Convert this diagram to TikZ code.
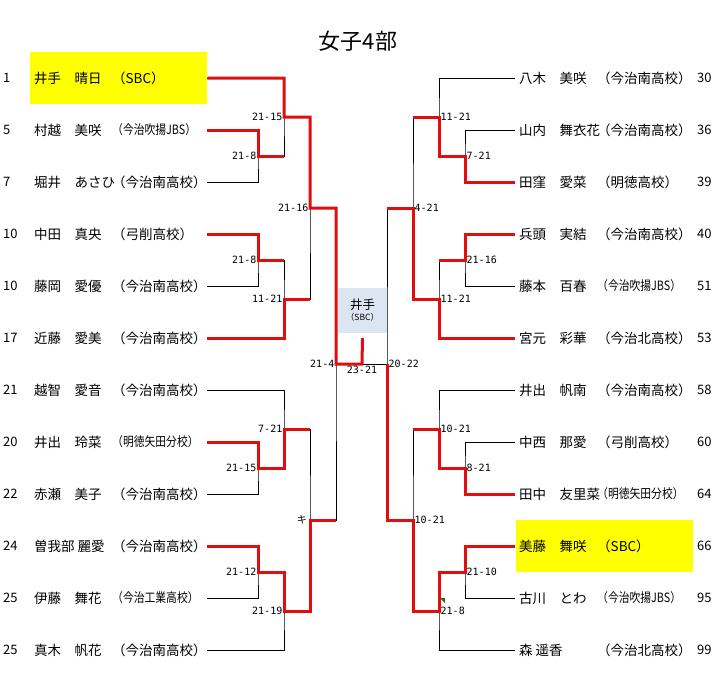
\documentclass[tikz,border=0pt]{standalone}
\usepackage{fontspec}
\setmainfont{Noto Sans CJK JP}
\newfontfamily\scorefont{DejaVu Sans Mono}
\usetikzlibrary{positioning}
\definecolor{winred}{RGB}{226,14,14}
\definecolor{hiyellow}{RGB}{255,255,0}
\definecolor{champblue}{RGB}{220,230,242}
\definecolor{notegreen}{RGB}{40,110,30}
\newcommand{\narrow}[1]{\scalebox{0.8}[0.95]{#1}}

\begin{document}
\begin{tikzpicture}[
    x=1pt, y=-1pt,
    pnum/.style={anchor=west, inner sep=0pt, font=\fontsize{13}{15}\selectfont},
    pname/.style={anchor=west, inner sep=0pt, font=\fontsize{13.5}{15}\selectfont},
    rname/.style={anchor=west, inner xsep=4pt, inner ysep=0pt, font=\fontsize{13.5}{15}\selectfont},
    pschool/.style={anchor=west, inner sep=0pt, text width=95pt, font=\fontsize{13.5}{15}\selectfont},
    lose/.style={draw=black, line width=0.8pt},
    win/.style={draw=winred, line width=3pt},
    lscore/.style={anchor=east, inner sep=1.5pt, font=\scorefont\fontsize{10}{12}\selectfont},
    rscore/.style={anchor=west, inner sep=1.5pt, font=\scorefont\fontsize{10}{12}\selectfont},
    champbox/.style={fill=champblue, minimum width=49pt, minimum height=45pt, inner sep=0pt, align=center}
]
\useasboundingbox (0,0) rectangle (717,677);

% highlighted rows
\fill[hiyellow] (30,52) rectangle (207,104);
\fill[hiyellow] (516,520) rectangle (693,572);

\node (title) at (358,41) {\fontsize{22}{24}\selectfont 女子4部};

% left block
\node (L1n) [pnum] at (3,78) {1};
\node (L1) [pname] at (34,78) {井手　晴日};
\node (L1s) [pschool] at (112,78) {（SBC）};
\node (L2n) [pnum] at (3,130) {5};
\node (L2) [pname] at (34,130) {村越　美咲};
\node (L2s) [pschool] at (112,130) {\narrow{（今治吹揚JBS）}};
\node (L3n) [pnum] at (3,182) {7};
\node (L3) [pname] at (34,182) {堀井　あさひ};
\node (L3s) [pschool] at (112,182) {（今治南高校）};
\node (L4n) [pnum] at (3,234) {10};
\node (L4) [pname] at (34,234) {中田　真央};
\node (L4s) [pschool] at (112,234) {（弓削高校）};
\node (L5n) [pnum] at (3,286) {10};
\node (L5) [pname] at (34,286) {藤岡　愛優};
\node (L5s) [pschool] at (112,286) {（今治南高校）};
\node (L6n) [pnum] at (3,338) {17};
\node (L6) [pname] at (34,338) {近藤　愛美};
\node (L6s) [pschool] at (112,338) {（今治南高校）};
\node (L7n) [pnum] at (3,390) {21};
\node (L7) [pname] at (34,390) {越智　愛音};
\node (L7s) [pschool] at (112,390) {（今治南高校）};
\node (L8n) [pnum] at (3,442) {20};
\node (L8) [pname] at (34,442) {井出　玲菜};
\node (L8s) [pschool] at (112,442) {\narrow{（明徳矢田分校）}};
\node (L9n) [pnum] at (3,494) {22};
\node (L9) [pname] at (34,494) {赤瀬　美子};
\node (L9s) [pschool] at (112,494) {（今治南高校）};
\node (L10n) [pnum] at (3,546) {24};
\node (L10) [pname] at (34,546) {曽我部 麗愛};
\node (L10s) [pschool] at (112,546) {（今治南高校）};
\node (L11n) [pnum] at (3,598) {25};
\node (L11) [pname] at (34,598) {伊藤　舞花};
\node (L11s) [pschool] at (112,598) {\narrow{（今治工業高校）}};
\node (L12n) [pnum] at (3,650) {25};
\node (L12) [pname] at (34,650) {真木　帆花};
\node (L12s) [pschool] at (112,650) {（今治南高校）};

% right block
\node (R1) [rname] at (515,78) {八木　美咲};
\node (R1s) [pschool] at (597,78) {（今治南高校）};
\node (R1n) [pnum] at (697,78) {30};
\node (R2) [rname] at (515,130) {山内　舞衣花};
\node (R2s) [pschool] at (597,130) {（今治南高校）};
\node (R2n) [pnum] at (697,130) {36};
\node (R3) [rname] at (515,182) {田窪　愛菜};
\node (R3s) [pschool] at (597,182) {（明徳高校）};
\node (R3n) [pnum] at (697,182) {39};
\node (R4) [rname] at (515,234) {兵頭　実結};
\node (R4s) [pschool] at (597,234) {（今治南高校）};
\node (R4n) [pnum] at (697,234) {40};
\node (R5) [rname] at (515,286) {藤本　百春};
\node (R5s) [pschool] at (597,286) {\narrow{（今治吹揚JBS）}};
\node (R5n) [pnum] at (697,286) {51};
\node (R6) [rname] at (515,338) {宮元　彩華};
\node (R6s) [pschool] at (597,338) {（今治北高校）};
\node (R6n) [pnum] at (697,338) {53};
\node (R7) [rname] at (515,390) {井出　帆南};
\node (R7s) [pschool] at (597,390) {（今治南高校）};
\node (R7n) [pnum] at (697,390) {58};
\node (R8) [rname] at (515,442) {中西　那愛};
\node (R8s) [pschool] at (597,442) {（弓削高校）};
\node (R8n) [pnum] at (697,442) {60};
\node (R9) [rname] at (515,494) {田中　友里菜};
\node (R9s) [pschool] at (597,494) {\narrow{（明徳矢田分校）}};
\node (R9n) [pnum] at (697,494) {64};
\node (R10) [rname] at (515,546) {美藤　舞咲};
\node (R10s) [pschool] at (597,546) {（SBC）};
\node (R10n) [pnum] at (697,546) {66};
\node (R11) [rname] at (515,598) {古川　とわ};
\node (R11s) [pschool] at (597,598) {\narrow{（今治吹揚JBS）}};
\node (R11n) [pnum] at (697,598) {95};
\node (R12) [rname] at (515,650) {森 遥香};
\node (R12s) [pschool] at (597,650) {（今治北高校）};
\node (R12n) [pnum] at (697,650) {99};

% match points
\coordinate (mA) at (258,156);
\coordinate (mB) at (284,117);
\coordinate (mC) at (258,260);
\coordinate (mD) at (284,299);
\coordinate (mE) at (310,208);
\coordinate (mF) at (258,468);
\coordinate (mG) at (284,429);
\coordinate (mH) at (258,572);
\coordinate (mI) at (284,611);
\coordinate (mJ) at (310,520);
\coordinate (mK) at (336,364);
\coordinate (ma) at (465,156);
\coordinate (mb) at (439,117);
\coordinate (mc) at (465,260);
\coordinate (md) at (439,299);
\coordinate (me) at (413,208);
\coordinate (mf) at (465,468);
\coordinate (mg) at (439,429);
\coordinate (mh) at (465,572);
\coordinate (mi) at (439,611);
\coordinate (mj) at (413,520);
\coordinate (mk) at (387,364);
\coordinate (fin) at (362,364);

\node (champ) [champbox] at (362.5,310.5) {\fontsize{12.5}{14}\selectfont 井手\\[-1pt]\fontsize{8.5}{10}\selectfont （SBC）};

% bracket lines
\draw[lose] (L2s.east) -| (mA) |- (L3s.east);
\draw[lose] (L1s.east) -| (mB) |- (mA);
\draw[lose] (L4s.east) -| (mC) |- (L5s.east);
\draw[lose] (mC) -| (mD) |- (L6s.east);
\draw[lose] (mB) -| (mE) |- (mD);
\draw[lose] (L8s.east) -| (mF) |- (L9s.east);
\draw[lose] (L7s.east) -| (mG) |- (mF);
\draw[lose] (L10s.east) -| (mH) |- (L11s.east);
\draw[lose] (mH) -| (mI) |- (L12s.east);
\draw[lose] (mG) -| (mJ) |- (mI);
\draw[lose] (mE) -| (mK) |- (mJ);
\draw[lose] (R2.west) -| (ma) |- (R3.west);
\draw[lose] (R1.west) -| (mb) |- (ma);
\draw[lose] (R4.west) -| (mc) |- (R5.west);
\draw[lose] (mc) -| (md) |- (R6.west);
\draw[lose] (mb) -| (me) |- (md);
\draw[lose] (R8.west) -| (mf) |- (R9.west);
\draw[lose] (R7.west) -| (mg) |- (mf);
\draw[lose] (R10.west) -| (mh) |- (R11.west);
\draw[lose] (mh) -| (mi) |- (R12.west);
\draw[lose] (mg) -| (mj) |- (mi);
\draw[lose] (me) -| (mk) |- (mj);
\draw[lose] (mK) -- (mk);

% winners
\draw[win] (L1s.east) -| (mB) -| (mE) -| (mK) -- (fin) -- ([yshift=-5pt]champ.south);
\draw[win] (L2s.east) -| (mA) -- (mA -| mB);
\draw[win] (L4s.east) -| (mC) -- (mC -| mD);
\draw[win] (L6s.east) -| (mD) -- (mD -| mE);
\draw[win] (L8s.east) -| (mF) -| (mG) -- (mG -| mJ);
\draw[win] (L10s.east) -| (mH) -| (mI) -| (mJ) -- (mJ -| mK);
\draw[win] (R3.west) -| (ma) -| (mb) -- (mb -| me);
\draw[win] (R4.west) -| (mc) -- (mc -| md);
\draw[win] (R6.west) -| (md) -| (me) -- (me -| mk);
\draw[win] (R9.west) -| (mf) -| (mg) -- (mg -| mj);
\draw[win] (R10.west) -| (mh) -| (mi) -| (mj) -| (mk);
\fill[notegreen] (440,598) -- (445,598) -- (445,603) -- cycle;

% scores
\node (sA) [lscore] at (mA) {21-8};
\node (sB) [lscore] at (mB) {21-15};
\node (sC) [lscore] at (mC) {21-8};
\node (sD) [lscore] at (mD) {11-21};
\node (sE) [lscore] at (mE) {21-16};
\node (sF) [lscore] at (mF) {21-15};
\node (sG) [lscore] at (mG) {7-21};
\node (sH) [lscore] at (mH) {21-12};
\node (sI) [lscore] at (mI) {21-19};
\node (sJ) [lscore, font=\fontsize{10}{12}\selectfont, inner sep=3pt] at (mJ) {キ};
\node (sK) [lscore] at (mK) {21-4};
\node (sa) [rscore] at (ma) {7-21};
\node (sb) [rscore] at (mb) {11-21};
\node (sc) [rscore] at (mc) {21-16};
\node (sd) [rscore] at (md) {11-21};
\node (se) [rscore] at (me) {4-21};
\node (sf) [rscore] at (mf) {8-21};
\node (sg) [rscore] at (mg) {10-21};
\node (sh) [rscore] at (mh) {21-10};
\node (si) [rscore] at (mi) {21-8};
\node (sj) [rscore] at (mj) {10-21};
\node (sk) [rscore] at (mk) {20-22};
\node (sfin) [lscore, anchor=north] at (fin) {23-21};

\end{tikzpicture}
\end{document}
